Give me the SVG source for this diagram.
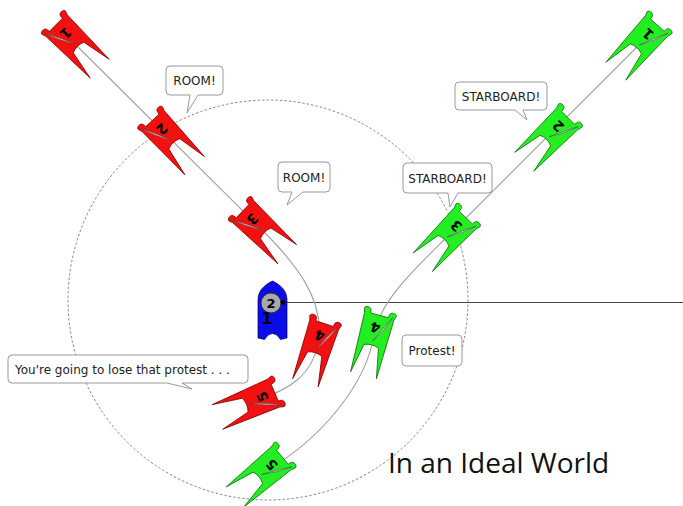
<svg xmlns="http://www.w3.org/2000/svg" xmlns:xlink="http://www.w3.org/1999/xlink" width="683" height="506" viewBox="0 0 683 506">
  <style>
    .r { fill: #f21010; stroke: #7a0000; stroke-width: 0.7; }
    .g { fill: #22ee22; stroke: #0a6a0a; stroke-width: 0.7; }
    .sail { fill: #e4e4e4; stroke: #444; stroke-width: 0.5; }
    .num { font-family: "DejaVu Sans", sans-serif; font-size: 13px; font-weight: bold; fill: #000; text-anchor: middle; dominant-baseline: central; }
    .track { fill: none; stroke: #a0a0a0; stroke-width: 1.1; }
    .bubble { fill: #fff; stroke: #9a9a9a; stroke-width: 1; }
    .say { font-family: "DejaVu Sans", sans-serif; font-size: 12px; fill: #222; }
    .mid { text-anchor: middle; }
  </style>
  <defs>
    <!-- catamaran hull outline, bow towards +x, origin mid-body -->
    <path id="cat" d="M -20,-8.5 L -23,-9 C -25.8,-9.5 -25.8,-15 -23,-15.5 L -19,-14.2 L 38,-12.5 L 10,-7 Q 7,0 10,7 L 38,12.5 L -19,14.2 L -23,15.5 C -25.8,15 -25.8,9.5 -23,9 L -20,8.5 Z"/>
    <!-- boom/sail swung to the +y side -->
    <path id="sail" class="sail" d="M 5,0 Q -8,8.5 -21,12.5 Q -8,5.5 5,0 Z"/>
  </defs>

  <!-- three-length zone -->
  <circle cx="268" cy="300" r="200" fill="none" stroke="#777" stroke-width="0.9" stroke-dasharray="2.5 2"/>
  <!-- line from the mark -->
  <line x1="283" y1="302.5" x2="683" y2="302.5" stroke="#444" stroke-width="1"/>

  <!-- tracks -->
  <g id="tracks">
    <path class="track" d="M 71,40 L 258,226 C 295,262 326,300 318,343 C 312,375 290,390 256,400"/>
    <path class="track" d="M 643,41 L 451,233 C 415,269 380,300 374,335 C 366,385 320,440 267,470"/>
  </g>

  <!-- red boats -->
  <g id="red-1" transform="translate(71,40) rotate(45) scale(1.07)">
    <use xlink:href="#cat" class="r"/><use xlink:href="#sail"/>
    <text class="num" transform="translate(-8,-1) rotate(90)">1</text>
  </g>
  <g id="red-2" transform="translate(167,136) rotate(47) scale(1.07)">
    <use xlink:href="#cat" class="r"/><use xlink:href="#sail"/>
    <text class="num" transform="translate(-8,-1) rotate(90)">2</text>
  </g>
  <g id="red-3" transform="translate(258,226) rotate(44) scale(1.07)">
    <use xlink:href="#cat" class="r"/><use xlink:href="#sail"/>
    <text class="num" transform="translate(-8,-1) rotate(90)">3</text>
  </g>
  <g id="red-4" transform="translate(318,344) rotate(108) scale(1.07)">
    <use xlink:href="#cat" class="r"/><use xlink:href="#sail" transform="scale(1,-1)"/>
    <text class="num" transform="translate(-8,1) rotate(90)">4</text>
  </g>
  <g id="red-5" transform="translate(255,401) rotate(157) scale(1.07)">
    <use xlink:href="#cat" class="r"/><use xlink:href="#sail" transform="scale(1,-1)"/>
    <text class="num" transform="translate(-8,1) rotate(90)">5</text>
  </g>

  <!-- green boats -->
  <g id="green-1" transform="translate(643,41) rotate(132) scale(1.07)">
    <use xlink:href="#cat" class="g"/><use xlink:href="#sail" transform="scale(1,-1)"/>
    <text class="num" transform="translate(-8,1) rotate(90)">1</text>
  </g>
  <g id="green-2" transform="translate(553,133) rotate(135) scale(1.07)">
    <use xlink:href="#cat" class="g"/><use xlink:href="#sail" transform="scale(1,-1)"/>
    <text class="num" transform="translate(-8,1) rotate(90)">2</text>
  </g>
  <g id="green-3" transform="translate(451,233) rotate(134) scale(1.07)">
    <use xlink:href="#cat" class="g"/><use xlink:href="#sail" transform="scale(1,-1)"/>
    <text class="num" transform="translate(-8,1) rotate(90)">3</text>
  </g>
  <g id="green-4" transform="translate(374,336) rotate(105) scale(1.07)">
    <use xlink:href="#cat" class="g"/><use xlink:href="#sail" transform="scale(1,-1)"/>
    <text class="num" transform="translate(-8,1) rotate(90)">4</text>
  </g>
  <g id="green-5" transform="translate(266,471) rotate(140) scale(1.07)">
    <use xlink:href="#cat" class="g"/><use xlink:href="#sail" transform="scale(1,-1)"/>
    <text class="num" transform="translate(-8,1) rotate(90)">5</text>
  </g>

  <!-- mark boat -->
  <g id="mark">
    <path d="M 272.5,281 C 281,285 287,291 287,300 L 287,338 L 280.5,339.5 Q 277,333.5 272.5,333.5 Q 268,333.5 264.5,339.5 L 258,338 L 258,300 C 258,291 264,285 272.5,281 Z" fill="#0c0ce8" stroke="#000060" stroke-width="0.7"/>
    <circle cx="271" cy="303" r="10" fill="#a8a8a8" stroke="#333" stroke-width="1"/>
    <text class="num" x="271" y="303.5" font-weight="normal" fill="#222">2</text>
    <circle cx="283" cy="302.5" r="2.3" fill="#000"/>
    <text x="267" y="324" font-family="DejaVu Sans, sans-serif" font-size="15" font-weight="bold" fill="#000" text-anchor="middle">1</text>
  </g>

  <!-- hails -->
  <g id="hail-room-1">
    <path class="bubble" d="M 170,66 H 219 Q 223,66 223,70 V 91 Q 223,95 219,95 H 198 L 187,113 L 190,95 H 170 Q 166,95 166,91 V 70 Q 166,66 170,66 Z"/>
    <text class="say mid" x="194.5" y="85">ROOM!</text>
  </g>
  <g id="hail-room-2">
    <path class="bubble" d="M 282,162 H 326 Q 330,162 330,166 V 188 Q 330,192 326,192 H 303 L 287,205 L 292,192 H 282 Q 278,192 278,188 V 166 Q 278,162 282,162 Z"/>
    <text class="say mid" x="304" y="181.5">ROOM!</text>
  </g>
  <g id="hail-starboard-1">
    <path class="bubble" d="M 459,82 H 543 Q 547,82 547,86 V 106 Q 547,110 543,110 H 523 L 527,120 L 515,110 H 459 Q 455,110 455,106 V 86 Q 455,82 459,82 Z"/>
    <text class="say mid" x="501" y="100.5">STARBOARD!</text>
  </g>
  <g id="hail-starboard-2">
    <path class="bubble" d="M 407,163 H 488 Q 492,163 492,167 V 189 Q 492,193 488,193 H 458 L 450,207 L 448,193 H 407 Q 403,193 403,189 V 167 Q 403,163 407,163 Z"/>
    <text class="say mid" x="447.5" y="182.5">STARBOARD!</text>
  </g>
  <g id="hail-lose">
    <path class="bubble" d="M 12,355 H 244 Q 248,355 248,359 V 379 Q 248,383 244,383 H 182 L 192,389 L 167,383 H 12 Q 8,383 8,379 V 359 Q 8,355 12,355 Z"/>
    <text class="say" x="15" y="373.5">You're going to lose that protest . . .</text>
  </g>
  <g id="hail-protest">
    <rect class="bubble" x="402" y="335" width="60" height="31" rx="4"/>
    <text class="say mid" x="432" y="355">Protest!</text>
  </g>

  <text x="388" y="473" font-family="Open Sans, sans-serif" font-size="28" fill="#111">In an Ideal World</text>
</svg>
